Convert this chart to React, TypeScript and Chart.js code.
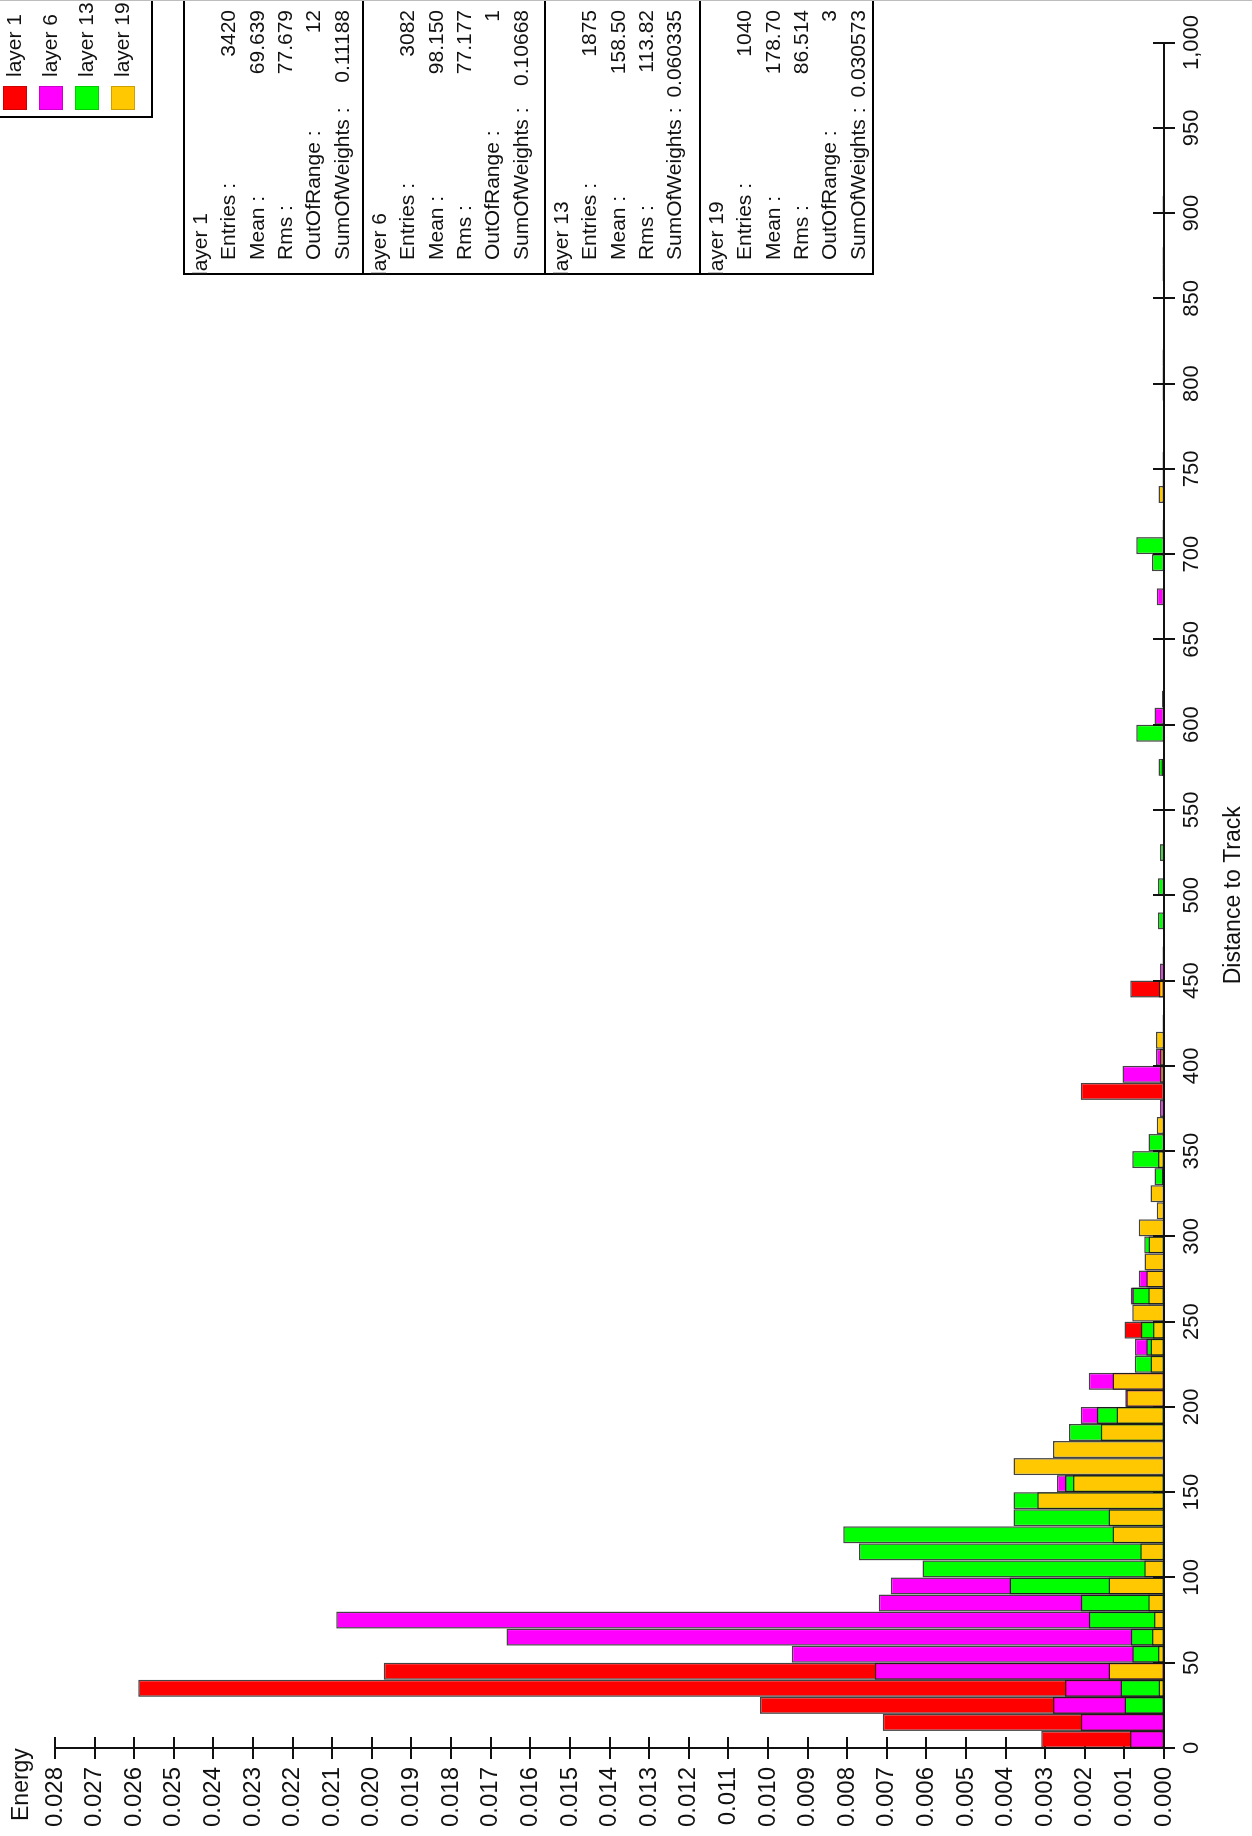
import React, { useEffect, useRef } from "react";
import { Chart, registerables } from "chart.js";

Chart.register(...registerables);

// ---- data (histogram bins of width 10, lower edges) ----
const binStarts = [
  0, 10, 20, 30, 40, 50, 60, 70, 80, 90,
  100, 110, 120, 130, 140, 150, 160, 170, 180, 190,
  200, 210, 220, 230, 240, 250, 260, 270, 280, 290,
  300, 310, 320, 330, 340, 350, 360, 370, 380, 390,
  400, 410, 420, 440, 450, 460, 480, 500, 520, 570,
  590, 600, 610, 670, 690, 700, 710, 730, 740, 750,
  790, 800, 810, 860, 870, 900,
];
const layer1 = [
  0.0031, 0.0071, 0.0102, 0.0259, 0.0197, 0, 0, 0, 0, 0,
  0, 0, 0, 0, 0, 0, 0, 0, 0, 0,
  0, 0, 0, 0, 0.001, 0, 0, 0, 0, 0,
  0, 0, 0, 0, 0, 0, 0, 0, 0.0021, 0,
  0, 0, 0, 0.00085, 0, 0, 0, 0, 0, 0,
  0, 0, 0, 0, 0, 0, 0.00004, 0, 0, 0.00004,
  0, 0, 0, 0.00004, 0, 0.00004,
];
const layer6 = [
  0.00086, 0.0021, 0.0028, 0.0025, 0.0073, 0.0094, 0.0166, 0.0209, 0.0072, 0.0069,
  0, 0, 0, 0, 0, 0.0027, 0, 0, 0, 0.0021,
  0.00098, 0.0019, 0, 0.00073, 0, 0, 0.00084, 0.00064, 0, 0,
  0, 0, 0, 0, 0, 0, 0, 0.0001, 0, 0.00105,
  0.0002, 0, 0.00004, 0, 0.0001, 0.00004, 0, 0, 0, 0,
  0, 0.00024, 0.00005, 0.00018, 0, 0, 0, 0, 0.00004, 0,
  0, 0, 0, 0, 0.00004, 0,
];
const layer13 = [
  0, 0, 0.001, 0.0011, 0, 0.0008, 0.00084, 0.0019, 0.0021, 0.0039,
  0.0061, 0.0077, 0.0081, 0.0038, 0.0038, 0.0025, 0, 0, 0.0024, 0.0017,
  0, 0, 0.00074, 0.00045, 0.00059, 0, 0.0008, 0, 0, 0.0005,
  0, 0, 0, 0.00024, 0.0008, 0.00039, 0, 0, 0, 0,
  0, 0, 0, 0, 0, 0, 0.00015, 0.00015, 0.0001, 0.00014,
  0.0007, 0, 0, 0, 0.0003, 0.0007, 0, 0, 0, 0,
  0.00004, 0, 0.00004, 0, 0, 0,
];
const layer19 = [
  0, 0, 0, 0.00014, 0.0014, 0.00015, 0.0003, 0.00025, 0.0004, 0.0014,
  0.0005, 0.0006, 0.0013, 0.0014, 0.0032, 0.0023, 0.0038, 0.0028, 0.0016, 0.0012,
  0.00095, 0.0013, 0.00034, 0.00034, 0.00028, 0.0008, 0.0004, 0.00045, 0.00049, 0.00039,
  0.00064, 0.00018, 0.00034, 0.00005, 0.00015, 0, 0.00018, 0, 0, 0.0001,
  0.0001, 0.0002, 0, 0.00013, 0, 0, 0, 0, 0, 0.00006,
  0, 0, 0, 0, 0, 0, 0, 0.00014, 0, 0,
  0, 0.00004, 0, 0, 0, 0,
];

const layerNames = ["layer 1", "layer 6", "layer 13", "layer 19"];
const layerColors = ["#ff0000", "#ff00ff", "#00ff00", "#ffc800"];

const distanceMin = 0;
const distanceMax = 1000;
const distanceStep = 50;
const energyMin = 0;
const energyMax = 0.028;
const energyStep = 0.001;

const xTitle = "Distance to Track";
const yTitle = "Energy";

const statTitles = ["layer 1", "layer 6", "layer 13", "layer 19"];
const statLabels = [
  ["Entries :", "Mean :", "Rms :", "OutOfRange :", "SumOfWeights :"],
  ["Entries :", "Mean :", "Rms :", "OutOfRange :", "SumOfWeights :"],
  ["Entries :", "Mean :", "Rms :", "SumOfWeights :"],
  ["Entries :", "Mean :", "Rms :", "OutOfRange :", "SumOfWeights :"],
];
const statValues = [
  ["3420", "69.639", "77.679", "12", "0.11188"],
  ["3082", "98.150", "77.177", "1", "0.10668"],
  ["1875", "158.50", "113.82", "0.060335"],
  ["1040", "178.70", "86.514", "3", "0.030573"],
];

const FONT = "'Liberation Sans', Arial, Helvetica, sans-serif";
const CW = 1836;
const CH = 1252;

const overlayPlugin = {
  id: "overlay",
  beforeDatasetsDraw(chart: any) {
    const ctx = chart.ctx;
    const xs = chart.scales.x;
    const ys = chart.scales.y;
    const ax = xs.getPixelForValue(distanceMin);
    const ay = ys.getPixelForValue(energyMin);
    ctx.save();
    ctx.strokeStyle = "#111";
    ctx.lineWidth = 2;
    ctx.beginPath();
    ys.ticks.forEach((t: any) => {
      const p = Math.round(ys.getPixelForValue(t.value));
      ctx.moveTo(ax - 11, p);
      ctx.lineTo(ax + 11, p);
    });
    xs.ticks.forEach((t: any) => {
      const p = Math.round(xs.getPixelForValue(t.value));
      ctx.moveTo(p, ay - 11);
      ctx.lineTo(p, ay + 11);
    });
    ctx.stroke();
    ctx.restore();
  },
  afterDatasetsDraw(chart: any) {
    const ctx = chart.ctx;
    const xs = chart.scales.x;
    const ys = chart.scales.y;
    const ax = xs.getPixelForValue(distanceMin);
    const ay = ys.getPixelForValue(energyMin);
    ctx.save();
    ctx.strokeStyle = "#111";
    ctx.lineWidth = 2;
    ctx.beginPath();
    ctx.moveTo(ax, ys.getPixelForValue(energyMax));
    ctx.lineTo(ax, ay);
    ctx.lineTo(xs.getPixelForValue(distanceMax), ay);
    ctx.stroke();
    ctx.restore();
  },
  afterDraw(chart: any) {
    const ctx = chart.ctx;
    ctx.save();

    // y-axis title
    ctx.fillStyle = "#111";
    ctx.font = `23px ${FONT}`;
    ctx.textAlign = "left";
    ctx.textBaseline = "middle";
    ctx.fillText(yTitle, 15, 22);

    // stats boxes
    const edges = [184, 363, 545, 700, 873];
    const boxLeft = 1562;
    ctx.fillStyle = "#fff";
    ctx.fillRect(boxLeft, edges[0], CW - boxLeft, edges[4] - edges[0]);
    ctx.strokeStyle = "#000";
    ctx.lineWidth = 2;
    ctx.beginPath();
    ctx.moveTo(CW, edges[0]);
    ctx.lineTo(boxLeft, edges[0]);
    ctx.lineTo(boxLeft, edges[4]);
    ctx.lineTo(CW, edges[4]);
    for (let i = 1; i < 4; i++) {
      ctx.moveTo(boxLeft, edges[i]);
      ctx.lineTo(CW, edges[i]);
    }
    ctx.stroke();
    ctx.fillStyle = "#111";
    ctx.font = `21px ${FONT}`;
    ctx.textBaseline = "middle";
    statTitles.forEach((title, i) => {
      const top = edges[i];
      ctx.textAlign = "left";
      ctx.fillText(title, boxLeft - 2, top + 17);
      statLabels[i].forEach((lab, j) => {
        const y = top + 17 + 28.4 * (j + 1);
        ctx.textAlign = "left";
        ctx.fillText(lab, 1576, y);
        ctx.textAlign = "right";
        ctx.fillText(statValues[i][j], 1826, y);
      });
    });

    // legend
    const legLeft = 1719;
    const legBottom = 152;
    ctx.fillStyle = "#fff";
    ctx.fillRect(legLeft, 0, CW - legLeft, legBottom);
    ctx.strokeStyle = "#000";
    ctx.lineWidth = 2;
    ctx.beginPath();
    ctx.moveTo(legLeft, 0);
    ctx.lineTo(legLeft, legBottom);
    ctx.lineTo(CW, legBottom);
    ctx.stroke();
    ctx.font = `21px ${FONT}`;
    ctx.textAlign = "left";
    ctx.textBaseline = "middle";
    layerNames.forEach((name, i) => {
      const cy = 15 + 36 * i;
      ctx.fillStyle = layerColors[i];
      ctx.fillRect(1726, cy - 12, 24, 24);
      ctx.strokeStyle = "rgba(0,0,0,0.2)";
      ctx.lineWidth = 1;
      ctx.strokeRect(1726.5, cy - 11.5, 23, 23);
      ctx.fillStyle = "#111";
      ctx.fillText(name, 1759, cy);
    });

    // faint outer border line at the picture's top edge
    ctx.strokeStyle = "#bdbdbd";
    ctx.lineWidth = 1;
    ctx.beginPath();
    ctx.moveTo(CW - 0.5, 0);
    ctx.lineTo(CW - 0.5, CH);
    ctx.stroke();

    ctx.restore();
  },
};

export default function App() {
  const canvasRef = useRef<HTMLCanvasElement | null>(null);

  useEffect(() => {
    const canvas = canvasRef.current;
    if (!canvas) return;
    const series = [layer1, layer6, layer13, layer19];
    const chart = new Chart(canvas, {
      type: "bar",
      data: {
        datasets: series.map((vals, i) => ({
          label: layerNames[i],
          data: binStarts.map((b, k) => ({ x: b + 5, y: vals[k] })),
          backgroundColor: layerColors[i],
          borderColor: "rgba(20,20,20,0.8)",
          borderWidth: 1.5,
          borderSkipped: false,
          inflateAmount: 0,
          grouped: false,
          barPercentage: 1,
          categoryPercentage: 1,
          order: 3 - i,
        })),
      },
      options: {
        responsive: false,
        animation: false,
        devicePixelRatio: 1,
        layout: { padding: { left: 0, right: 36, top: 55, bottom: 0 } },
        plugins: {
          legend: { display: false },
          tooltip: { enabled: false },
        },
        scales: {
          x: {
            type: "linear",
            min: distanceMin,
            max: distanceMax,
            offset: false,
            grid: { display: false, drawTicks: false },
            border: { display: false },
            ticks: {
              stepSize: distanceStep,
              autoSkip: false,
              maxRotation: 0,
              minRotation: 0,
              padding: 15,
              color: "#111",
              font: { family: FONT, size: 22 },
              callback: (v: any) => Number(v).toLocaleString("en-US"),
            },
            title: {
              display: true,
              text: xTitle,
              color: "#111",
              font: { family: FONT, size: 23 },
              padding: { top: 0, bottom: 5 },
            },
            afterFit: (s: any) => {
              s.height = 88;
            },
          },
          y: {
            type: "linear",
            min: energyMin,
            max: energyMax,
            grid: { display: false, drawTicks: false },
            border: { display: false },
            ticks: {
              stepSize: energyStep,
              autoSkip: false,
              padding: 19,
              color: "#111",
              font: { family: FONT, size: 24 },
              callback: (v: any) => Number(v).toFixed(3),
            },
            afterFit: (s: any) => {
              s.width = 88;
            },
          },
        },
      } as any,
      plugins: [overlayPlugin],
    });
    return () => chart.destroy();
  }, []);

  return (
    <div
      style={{
        position: "fixed",
        left: 0,
        top: 0,
        width: 1252,
        height: 1836,
        overflow: "hidden",
        background: "#fff",
      }}
    >
      <div
        style={{
          position: "absolute",
          left: 0,
          top: 0,
          width: CW,
          height: CH,
          transformOrigin: "0 0",
          transform: `translateY(${CW}px) rotate(-90deg)`,
        }}
      >
        <canvas
          ref={canvasRef}
          width={CW}
          height={CH}
          style={{ width: CW, height: CH, display: "block" }}
        />
      </div>
    </div>
  );
}
